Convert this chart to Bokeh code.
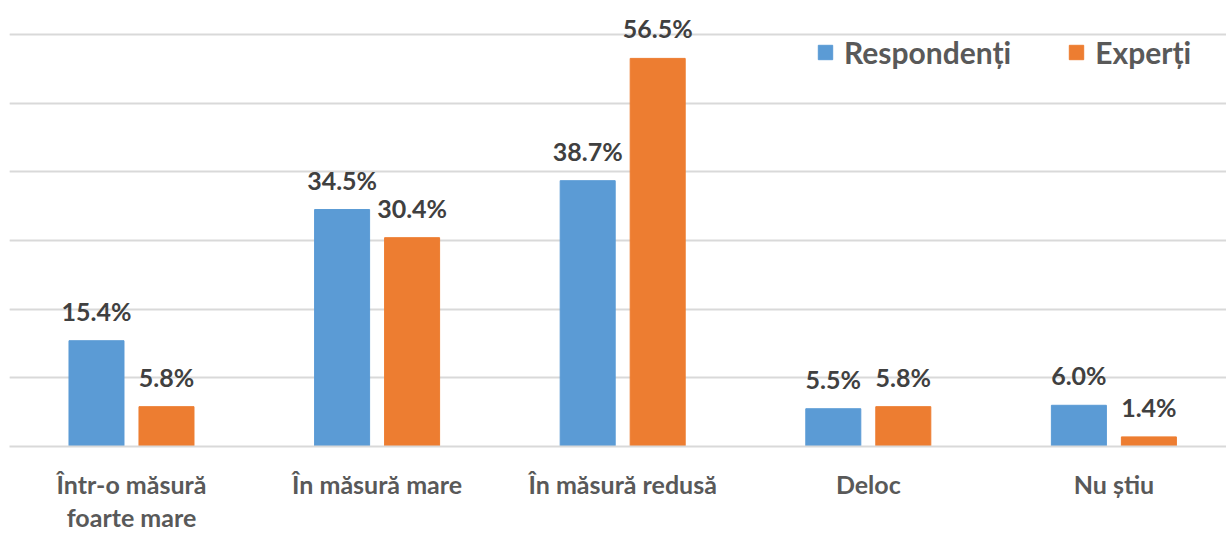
from bokeh.plotting import figure
from bokeh.models import ColumnDataSource, Range1d, FixedTicker, Grid, Legend, LegendItem
from bokeh.transform import dodge
from bokeh.core.properties import value
from bokeh.embed import file_html
from bokeh.resources import INLINE

categories = ["Într-o măsură\nfoarte mare", "În măsură mare", "În măsură redusă", "Deloc", "Nu știu"]
respondenti = [15.4, 34.5, 38.7, 5.5, 6.0]
experti = [5.8, 30.4, 56.5, 5.8, 1.4]
series_names = ["Respondenți", "Experți"]
colors = ["#5B9BD5", "#ED7D31"]
grid_ticks = [0, 10, 20, 30, 40, 50, 60]

FONT = "Lato"
idx = list(range(len(categories)))
src = ColumnDataSource(dict(
    x=idx,
    r=respondenti,
    e=experti,
    rl=[f"{v:.1f}%" for v in respondenti],
    el=[f"{v:.1f}%" for v in experti],
))

p = figure(width=1226, height=534, output_backend="svg", toolbar_location=None,
           x_range=Range1d(-0.4967, 4.4585), y_range=Range1d(0, 64.93),
           y_axis_location=None, min_border_left=9, min_border_right=0,
           min_border_top=0, min_border_bottom=86)
p.outline_line_color = None
p.background_fill_color = "white"
p.border_fill_color = "white"
p.xgrid.visible = False

g = Grid(dimension=1, ticker=FixedTicker(ticks=grid_ticks),
         grid_line_color="#D9D9D9", grid_line_width=2)
p.add_layout(g)

off = 0.1425
bw = 0.224
b1 = p.vbar(x=dodge("x", -off), top="r", width=bw, source=src, color=colors[0])
b2 = p.vbar(x=dodge("x", off), top="e", width=bw, source=src, color=colors[1])

for col, lab, o in (("r", "rl", -off), ("e", "el", off)):
    p.text(x=dodge("x", o), y=col, text=lab, source=src, y_offset=-30,
           text_align="center", text_baseline="alphabetic",
           text_font=value(FONT), text_font_style="bold", text_font_size="25px",
           text_color="#404040")

xa = p.xaxis[0]
xa.ticker = FixedTicker(ticks=idx)
xa.major_label_overrides = {i: c for i, c in zip(idx, categories)}
xa.major_tick_line_color = None
xa.minor_tick_line_color = None
xa.axis_line_color = "#D9D9D9"
xa.axis_line_width = 2
xa.major_label_text_font = FONT
xa.major_label_text_font_style = "bold"
xa.major_label_text_font_size = "25px"
xa.major_label_text_color = "#595959"
xa.major_label_standoff = 16
xa.major_label_text_line_height = 1.1

legend = Legend(items=[LegendItem(label=series_names[0], renderers=[b1]),
                       LegendItem(label=series_names[1], renderers=[b2])],
                location=(807, 376), orientation="horizontal")
legend.border_line_color = None
legend.background_fill_alpha = 0
legend.padding = 0
legend.margin = 0
legend.spacing = 56
legend.glyph_width = 18
legend.glyph_height = 18
legend.label_standoff = 10
legend.label_text_font = FONT
legend.label_text_font_style = "bold"
legend.label_text_font_size = "30px"
legend.label_text_color = "#595959"
p.add_layout(legend)

open("out.html", "w").write(file_html(p, INLINE))
